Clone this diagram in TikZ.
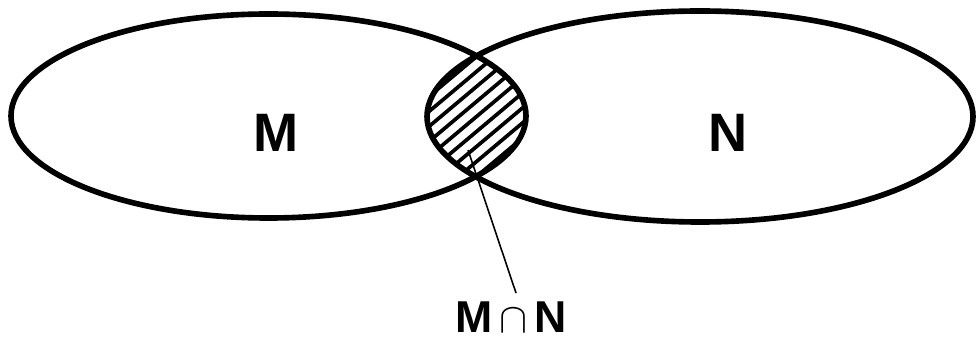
\documentclass[tikz,border=0pt]{standalone}
\usepackage{fontspec}
\setmainfont{Liberation Sans}

\begin{document}
\begin{tikzpicture}[x=0.1mm,y=-0.1mm,font=\bfseries]

  % Half axes
  \def\ra{257.5}
  \def\rb{102}
  \def\rc{273}
  \def\rd{105.5}

  \useasboundingbox (0,0) rectangle (976,338);

  \coordinate (M0) at (268.5,116);
  \coordinate (N0) at (700,116.5);

  % Hatching of the lens
  \begin{scope}
    \clip (M0) ellipse ({\ra} and {\rb});
    \clip (N0) ellipse ({\rc} and {\rd});
    \foreach \k in {-9,...,9}
      \draw[line width=1.05pt]
        (376,117+15*\k+84) -- (576,117+15*\k-84);
  \end{scope}

  \draw[line width=1.6pt] (M0) ellipse ({\ra} and {\rb});
  \draw[line width=1.6pt] (N0) ellipse ({\rc} and {\rd});

  \node (M) at (276,133) {\fontsize{15.4}{18}\selectfont M};
  \node (N) at (728,133) {\fontsize{15.4}{18}\selectfont N};

  % Pointer
  \coordinate (lens) at (468,150);
  \coordinate (tip) at (516,293);
  \draw[line width=0.45pt] (lens) -- (tip);
  \node[inner sep=1pt] (MN) at (511,317)
    {\fontsize{12.7}{15}\selectfont M$\,\cap\,$N};

\end{tikzpicture}
\end{document}
